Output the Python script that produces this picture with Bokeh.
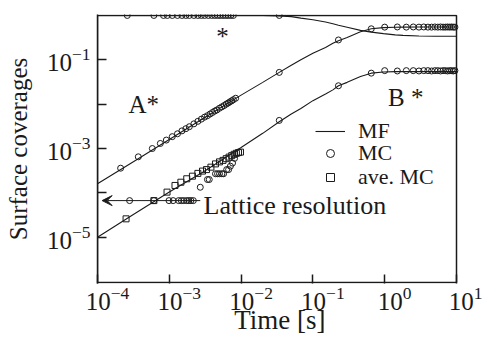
from bokeh.plotting import figure
from bokeh.models import (Range1d, FixedTicker, Label, Arrow, VeeHead, Legend, LegendItem,
                          LogAxis, LogScale, CustomJSTickFormatter, BoxAnnotation)
from bokeh.embed import file_html
from bokeh.resources import INLINE

FONT = "Liberation Serif"
INK = "#1a1a1a"

# ---- mean-field (MF) curves ----
mf_t = [1e-4, 3e-4, 1e-3, 3e-3, 1e-2, 2e-2, 3.4e-2, 5e-2, 6.8e-2, 0.1, 0.15, 0.19,
        0.227, 0.3, 0.46, 0.65, 0.96, 1.4, 1.8, 3.0, 5.0, 10.0]
mf_star = [1.0, 1.0, 1.0, 1.0, 1.0, 0.995, 0.98, 0.94, 0.87, 0.80, 0.71, 0.65,
           0.60, 0.54, 0.46, 0.42, 0.39, 0.365, 0.355, 0.345, 0.34, 0.34]
mf_A = [1.6e-4, 4.8e-4, 1.6e-3, 4.8e-3, 0.016, 0.031, 0.052, 0.075, 0.10, 0.14, 0.19, 0.235,
        0.27, 0.32, 0.43, 0.50, 0.53, 0.54, 0.545, 0.55, 0.55, 0.55]
mf_B = [1.0e-5, 3.1e-5, 1.05e-4, 3.0e-4, 1.05e-3, 2.2e-3, 4.0e-3, 6.0e-3, 8.0e-3, 0.012, 0.017, 0.021,
        0.026, 0.031, 0.042, 0.050, 0.053, 0.054, 0.054, 0.054, 0.054, 0.054]

# ---- Monte Carlo (MC) points ----
mc_star_t = [2.6e-4, 6.1e-4, 8.3e-4, 9.4e-4, 1.1e-3, 1.3e-3, 1.5e-3, 1.7e-3, 1.9e-3, 2.2e-3,
             2.5e-3, 2.8e-3, 3.1e-3, 3.5e-3, 3.9e-3, 4.3e-3, 4.7e-3, 5.1e-3, 5.6e-3, 6.1e-3,
             6.6e-3, 7.2e-3, 7.8e-3, 0.034]
mc_star = [1.0, 1.0, 1.0, 1.0, 1.0, 1.0, 1.0, 1.0, 1.0, 1.0,
           1.0, 1.0, 1.0, 1.0, 1.0, 1.0, 1.0, 1.0, 1.0, 1.0,
           1.0, 1.0, 1.0, 1.0]

mc_A_t = [2.1e-4, 3.7e-4, 5.8e-4, 7.5e-4, 9.1e-4, 1.1e-3, 1.3e-3, 1.5e-3, 1.7e-3, 1.9e-3,
          2.2e-3, 2.5e-3, 2.8e-3, 3.1e-3, 3.4e-3, 3.7e-3, 4.0e-3, 4.3e-3, 4.6e-3, 5.0e-3,
          5.4e-3, 5.8e-3, 6.2e-3, 6.6e-3, 7.0e-3, 7.4e-3, 7.8e-3, 8.4e-3,
          0.034, 0.227, 0.65,
          1.0, 1.5, 2.0, 2.5, 3.0, 3.5, 4.0, 4.5, 5.0, 5.5, 6.0, 6.5, 7.0, 7.5, 8.0, 8.5, 9.0, 9.5]
mc_A = [3.6e-4, 6.5e-4, 1.0e-3, 1.3e-3, 1.55e-3, 1.85e-3, 2.15e-3, 2.5e-3, 2.8e-3, 3.1e-3,
        3.6e-3, 4.1e-3, 4.6e-3, 5.1e-3, 5.5e-3, 6.0e-3, 6.5e-3, 7.0e-3, 7.4e-3, 8.1e-3,
        8.7e-3, 9.3e-3, 0.0100, 0.0106, 0.0113, 0.0119, 0.0126, 0.0136,
        0.052, 0.28, 0.50,
        0.545, 0.55, 0.545, 0.55, 0.545, 0.55, 0.545, 0.545, 0.55, 0.545, 0.55, 0.545, 0.545,
        0.55, 0.545, 0.55, 0.545, 0.545]

mc_B_t = [2.8e-4, 6.1e-4, 9.9e-4, 1.13e-3, 1.35e-3, 1.47e-3, 1.59e-3, 1.75e-3, 1.87e-3, 2.0e-3,
          2.16e-3, 2.7e-3, 3.4e-3, 3.6e-3, 4.4e-3, 4.7e-3, 5.0e-3, 5.4e-3, 5.7e-3, 6.3e-3,
          6.7e-3, 7.1e-3, 7.6e-3, 8.1e-3,
          0.034, 0.227, 0.65,
          1.0, 1.5, 2.0, 2.5, 3.0, 3.5, 4.0, 4.5, 5.0, 5.5, 6.0, 6.5, 7.0, 7.5, 8.0, 8.5, 9.0, 9.5]
mc_B = [6.7e-5, 6.7e-5, 6.7e-5, 6.7e-5, 6.7e-5, 6.7e-5, 6.7e-5, 6.7e-5, 6.7e-5, 6.7e-5,
        6.7e-5, 1.34e-4, 2.0e-4, 2.0e-4, 2.7e-4, 2.7e-4, 2.7e-4, 2.7e-4, 2.7e-4, 3.35e-4,
        3.35e-4, 4.0e-4, 4.7e-4, 6.0e-4,
        4.3e-3, 0.026, 0.050,
        0.057, 0.056, 0.057, 0.057, 0.056, 0.057, 0.057, 0.056, 0.057, 0.057, 0.056, 0.057,
        0.057, 0.056, 0.057, 0.057, 0.056, 0.057]

# ---- averaged MC (ave. MC) points for B ----
ave_t = [2.5e-4, 6.1e-4, 9.3e-4, 1.2e-3, 1.45e-3, 1.75e-3, 2.1e-3, 2.5e-3, 2.9e-3, 3.3e-3,
         3.8e-3, 4.4e-3, 5.0e-3, 5.6e-3, 6.2e-3, 6.8e-3, 7.4e-3, 8.0e-3, 8.6e-3, 9.2e-3, 9.8e-3]
ave_B = [2.6e-5, 6.7e-5, 1.04e-4, 1.47e-4, 1.74e-4, 2.08e-4, 2.38e-4, 2.75e-4, 3.1e-4, 3.35e-4,
         3.8e-4, 4.5e-4, 5.0e-4, 5.4e-4, 5.9e-4, 6.4e-4, 6.9e-4, 7.4e-4, 7.8e-4, 8.1e-4, 8.3e-4]

x_ticks = [1e-4, 1e-3, 1e-2, 1e-1, 1.0, 10.0]
y_ticks = [1e-5, 1e-3, 1e-1]
y_minor = [1e-4, 1e-2]
lattice_level = 6.7e-5

# the axes box spans t = 1e-4 .. 10; the frame itself runs on to the canvas edge so that
# the last tick label (10^1), which sits a little right of its tick, is not clipped
X0, X1 = 1e-4, 10.0
PX_PER_DECADE = 71.8
X_END = X1 * 10 ** (26 / PX_PER_DECADE)
Y0, Y1 = 9.06e-7, 1.05

p = figure(width=482, height=338, x_axis_type="log", y_axis_type="log",
           x_range=Range1d(X0, X_END), y_range=Range1d(Y0, Y1),
           output_backend="svg", toolbar_location=None,
           min_border_left=97, min_border_right=0, min_border_top=14, min_border_bottom=55)
p.xgrid.visible = False
p.ygrid.visible = False
p.outline_line_alpha = 0

for ax in (p.xaxis[0], p.yaxis[0]):
    ax.axis_line_color = INK
    ax.axis_line_width = 1.5
    ax.major_tick_line_color = INK
    ax.minor_tick_line_color = INK
    ax.major_tick_line_width = 1.5
    ax.minor_tick_line_width = 1.5
    ax.major_tick_in = 9
    ax.major_tick_out = 0
    ax.minor_tick_in = 9
    ax.minor_tick_out = 0
    ax.major_label_text_font = FONT
    ax.major_label_text_font_size = "25px"
    ax.major_label_text_color = INK
    ax.axis_label_text_font = FONT
    ax.axis_label_text_font_style = "normal"
    ax.axis_label_text_color = INK

p.xaxis.ticker = FixedTicker(ticks=x_ticks, minor_ticks=[])
p.xaxis.axis_line_alpha = 0
p.yaxis.ticker = FixedTicker(ticks=y_ticks, minor_ticks=y_minor)
p.yaxis.major_label_standoff = 7
p.yaxis.axis_label = "Surface coverages"
p.yaxis.axis_label_text_font_size = "25px"
p.yaxis.axis_label_standoff = 12

# axes box
p.add_layout(BoxAnnotation(left=X0, right=X1, bottom=9.5e-7, top=1.0,
                           fill_alpha=0, line_color=INK, line_width=1.5, line_alpha=1))

# main x axis keeps only the ticks; the labels come from a label-only axis that sits
# slightly to the right of each tick, as in the original figure
p.xaxis.formatter = CustomJSTickFormatter(code="return ' '")
p.xaxis.major_label_text_font_size = "1px"
p.xaxis.major_label_text_alpha = 0
p.xaxis.major_label_standoff = 0
shift = 10 ** (10 / PX_PER_DECADE)
p.extra_x_ranges = {"lab": Range1d(X0 / shift, X_END / shift)}
p.extra_x_scales = {"lab": LogScale()}
# trailing no-break spaces keep the title centred under the box, not the wider frame
lab_axis = LogAxis(x_range_name="lab", ticker=FixedTicker(ticks=x_ticks, minor_ticks=[]),
                   axis_line_alpha=0, major_tick_in=0, major_tick_out=0,
                   minor_tick_in=0, minor_tick_out=0,
                   major_label_text_font=FONT, major_label_text_font_size="25px",
                   major_label_text_color=INK, major_label_standoff=3,
                   axis_label="Time [s]\u00a0\u00a0\u00a0", axis_label_text_font=FONT,
                   axis_label_text_font_size="27px", axis_label_text_font_style="normal",
                   axis_label_text_color=INK, axis_label_standoff=-8)
p.add_layout(lab_axis, "below")

lw = 1.1
r_mf = p.line(mf_t, mf_star, line_color=INK, line_width=lw)
p.line(mf_t, mf_A, line_color=INK, line_width=lw)
p.line(mf_t, mf_B, line_color=INK, line_width=lw)

r_mc = p.scatter(mc_star_t, mc_star, marker="circle", size=6, fill_alpha=0, line_color=INK, line_width=1)
p.scatter(mc_A_t, mc_A, marker="circle", size=6, fill_alpha=0, line_color=INK, line_width=1)
p.scatter(mc_B_t, mc_B, marker="circle", size=6, fill_alpha=0, line_color=INK, line_width=1)
r_sq = p.scatter(ave_t, ave_B, marker="square", size=6, fill_alpha=0, line_color=INK, line_width=1)

p.add_layout(Arrow(end=VeeHead(size=10, fill_color=INK, line_color=INK, line_width=1),
                   x_start=2.7e-3, y_start=lattice_level, x_end=1.16e-4, y_end=lattice_level,
                   line_color=INK, line_width=1))

def lab(x, y, text, size="25px"):
    p.add_layout(Label(x=x, y=y, text=text, text_font=FONT, text_font_size=size,
                       text_color=INK, text_baseline="alphabetic"))

lab(3.0e-3, 5.3e-5, "Lattice resolution", "26px")
lab(2.7e-4, 0.010, "A*")
lab(4.5e-3, 0.34, "*")
lab(1.11, 0.0144, "B *")

def leg(label, rend, vy):
    lg = Legend(items=[LegendItem(label=label, renderers=[rend])],
                location=(218, vy), border_line_alpha=0, background_fill_alpha=0,
                padding=0, margin=0, spacing=0, glyph_width=30, glyph_height=20,
                label_standoff=13, label_text_font=FONT, label_text_font_size="22px",
                label_text_color=INK, label_height=20)
    p.add_layout(lg)

leg("MF", r_mf, 139)
leg("MC", r_mc, 117)
leg("ave. MC", r_sq, 93)

open("out.html", "w").write(file_html(p, INLINE))
